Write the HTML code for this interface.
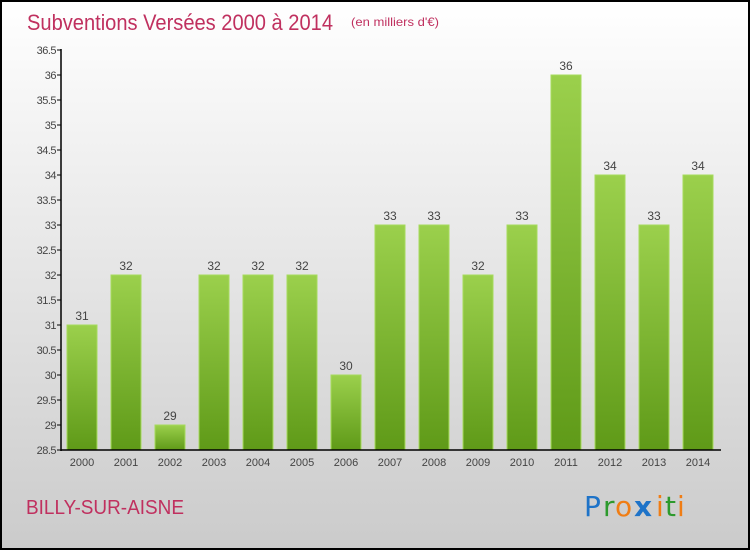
<!DOCTYPE html>
<html><head><meta charset="utf-8"><style>
body{margin:0;width:750px;height:550px;overflow:hidden;font-family:"Liberation Sans",sans-serif}
</style></head><body>
<svg width="750" height="550" xmlns="http://www.w3.org/2000/svg">
<defs>
<linearGradient id="bg" x1="0" y1="0" x2="0" y2="1"><stop offset="0" stop-color="#ffffff"/><stop offset="1" stop-color="#cbcbcb"/></linearGradient>
<linearGradient id="bar" x1="0" y1="0" x2="0" y2="1"><stop offset="0" stop-color="#9bd04c"/><stop offset="1" stop-color="#5f9a18"/></linearGradient>
</defs>
<rect x="1" y="1" width="748" height="548" fill="url(#bg)" stroke="#000" stroke-width="2"/>
<text x="27" y="30" font-size="22" fill="#c0305f" textLength="306" lengthAdjust="spacingAndGlyphs">Subventions Versées 2000 à 2014</text>
<text x="351" y="26" font-size="12" fill="#c0305f" textLength="88" lengthAdjust="spacingAndGlyphs">(en milliers d'€)</text>
<g id="plot"></g>
<text x="26" y="514" font-size="20" fill="#c0305f" textLength="158" lengthAdjust="spacingAndGlyphs">BILLY-SUR-AISNE</text>
<g font-size="28" font-family="'DejaVu Sans',sans-serif">
<text x="584" y="516" fill="#1e73c8">P</text><text x="603" y="516" fill="#2d9a2d">r</text><text x="615" y="516" fill="#f07d14">o</text><text x="634" y="516" fill="#1e73c8" font-weight="bold">x</text><text x="656" y="516" fill="#f07d14">i</text><text x="665" y="516" fill="#2d9a2d">t</text><text x="677" y="516" fill="#f07d14">i</text>
</g>
</svg>
<script>
const years=["2000","2001","2002","2003","2004","2005","2006","2007","2008","2009","2010","2011","2012","2013","2014"];
const values=[31,32,29,32,32,32,30,33,33,32,33,36,34,33,34];
const yTicks=[28.5,29,29.5,30,30.5,31,31.5,32,32.5,33,33.5,34,34.5,35,35.5,36,36.5];
const NS="http://www.w3.org/2000/svg";
const g=document.getElementById('plot');
const y=v=>450-(v-28.5)*50;
const x=i=>82+i*44;
function mk(t,a,p){const e=document.createElementNS(NS,t);for(const k in a)e.setAttribute(k,a[k]);(p||g).appendChild(e);return e;}
values.forEach((v,i)=>{
 const r=mk('rect',{x:x(i)-15,y:y(v),width:30,height:450-y(v),fill:'url(#bar)',stroke:'#a6db5c','stroke-width':1});
 
 
 const t=mk('text',{x:x(i),y:y(v)-5,'font-size':12,'text-anchor':'middle',fill:'#444'});t.textContent=v;
 
 
 const xl=mk('text',{x:x(i),y:466,'font-size':11,'text-anchor':'middle',fill:'#444'});xl.textContent=years[i];
 
 
});
yTicks.forEach(v=>{
 mk('line',{x1:57,x2:61,y1:y(v),y2:y(v),stroke:'#000'});
 const t=mk('text',{x:56,y:y(v)+4,'font-size':11,'text-anchor':'end',fill:'#444','letter-spacing':'-0.5'});t.textContent=v;
 
 
});
const ya=mk('line',{x1:61,x2:61,y1:49,y2:451,stroke:'#000','stroke-width':1.5});


const xa=mk('line',{x1:61,x2:721,y1:450,y2:450,stroke:'#000','stroke-width':1.5});


</script>
</body></html>
